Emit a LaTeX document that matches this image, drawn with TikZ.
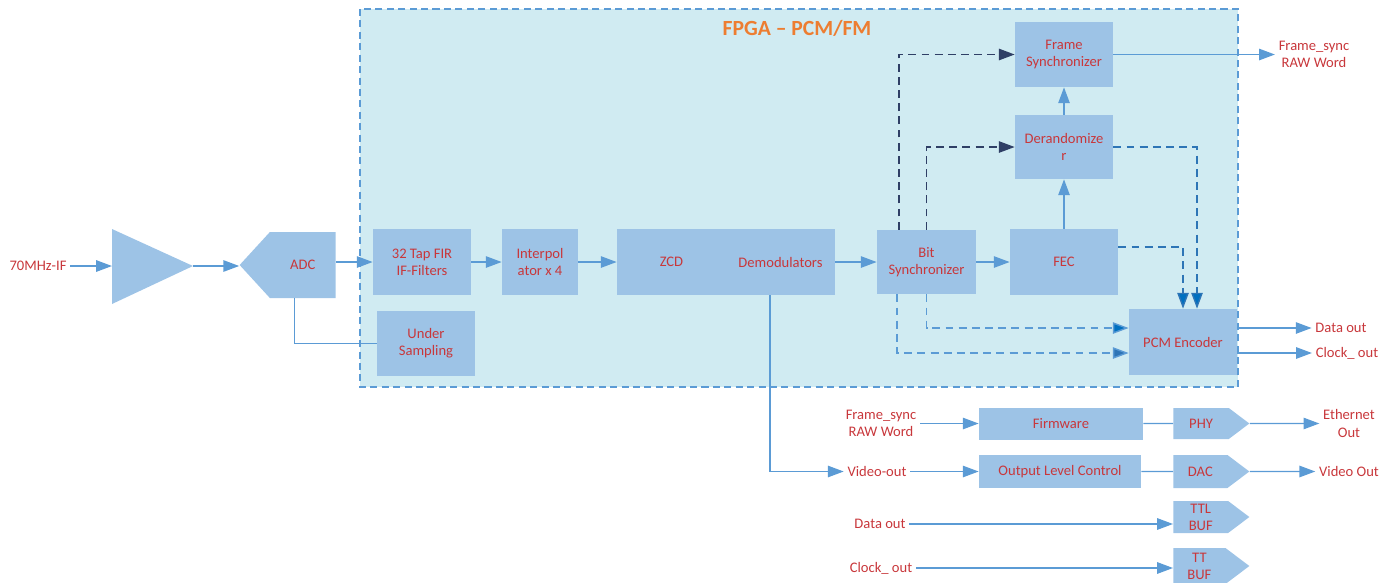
\documentclass[tikz,border=0pt]{standalone}
\usepackage{fontspec}
\setmainfont{Carlito}
\usetikzlibrary{arrows.meta,shapes.symbols}
\definecolor{blkfill}{HTML}{9DC3E6}
\definecolor{fpgafill}{HTML}{D0EBF2}
\definecolor{linblue}{HTML}{5B9BD5}
\definecolor{darkdash}{HTML}{2F3F66}
\definecolor{middash}{HTML}{2E75B6}
\definecolor{tipblue}{HTML}{0070C0}
\definecolor{txtred}{HTML}{C8373B}
\definecolor{ttlorange}{HTML}{ED7D31}
\tikzset{
  lbl/.style={text=txtred, font=\fontsize{8.3}{9.7}\selectfont, align=center, inner sep=2pt},
  blk/.style 2 args={lbl, fill=blkfill, inner sep=1pt,
    minimum width=#1*0.02cm, minimum height=#2*0.02cm},
  sig/.style 2 args={blk={#1}{#2}, signal},
  ln/.style={draw=linblue, line width=0.8pt},
  arr/.style={ln, -{Triangle[length=9pt,width=6.5pt]}},
  dsh/.style={line width=0.8pt, dash pattern=on 4.5pt off 3pt,
    -{Triangle[length=9pt,width=6.5pt]}},
}
\begin{document}
\begin{tikzpicture}[x=0.02cm,y=-0.02cm]
\useasboundingbox (0,0) rectangle (1396,582);
% FPGA area
\draw[linblue, line width=0.8pt, dash pattern=on 4pt off 2.5pt, fill=fpgafill] (360,9) rectangle (1238,387);
\node[text=ttlorange, font=\fontsize{12.3}{14}\selectfont\bfseries] (fpgattl) at (797,28) {FPGA \textendash{} PCM/FM};
% front end
\fill[blkfill] (112,229) -- (193,266) -- (112,304) -- cycle;
\coordinate (ampin) at (112,266);
\coordinate (ampout) at (193,266);
\node[lbl] (ifin) at (38,266) {70MHz-IF};
\node[sig={96}{66}, signal to=west, signal pointer angle=95, anchor=east] (adc) at (336,265) {ADC};
% processing chain
\node[blk={98}{66}] (fir) at (422,262) {32 Tap FIR\\IF-Filters};
\node[blk={76}{66}] (interp) at (540,262) {Interpol\\ator x 4};
\node[blk={109}{66}] (zcd) at (671.5,262) {ZCD};
\node[blk={109}{66}] (demod) at (780.5,262) {Demodulators};
\node[blk={98}{65}] (under) at (426,343.5) {Under\\Sampling};
\node[blk={99}{64}] (bitsync) at (926.5,262) {Bit\\Synchronizer};
\node[blk={108}{66}] (fec) at (1064,262) {FEC};
\node[blk={98}{64}] (derand) at (1064,147) {Derandomize\\r};
\node[blk={98}{65}] (frame) at (1064,54.5) {Frame\\Synchronizer};
\node[blk={108}{66}] (pcm) at (1183,342) {PCM Encoder};
\node[lbl] (fsout) at (1314,54.5) {Frame\_sync\\RAW Word};
\node[lbl] (dout) at (1341,328) {Data out};
\node[lbl] (cout) at (1347,353) {Clock\_ out};
% outputs below
\node[lbl] (fsin) at (881,423.5) {Frame\_sync\\RAW Word};
\node[lbl] (vin) at (877,471.5) {Video-out};
\node[lbl] (din) at (880,524) {Data out};
\node[lbl] (cin) at (881,568) {Clock\_ out};
\node[blk={164}{32}] (firmware) at (1061,423.5) {Firmware};
\node[blk={162}{33}] (olc) at (1060,471.5) {Output Level Control};
\node[sig={76}{31}, signal to=east, signal pointer angle=74, anchor=west] (phy) at (1173,423.5) {PHY};
\node[sig={76}{33}, signal to=east, signal pointer angle=74, anchor=west] (dac) at (1173,471.5) {DAC};
\node[sig={76}{32}, signal to=east, signal pointer angle=74, anchor=west] (ttl) at (1173,517) {TTL\\BUF};
\node[sig={76}{36}, signal to=east, signal pointer angle=74, anchor=west] (tt) at (1173,566) {TT\\BUF};
\node[lbl] (ethout) at (1349,423.5) {Ethernet\\Out};
\node[lbl] (vout) at (1349,471.5) {Video Out};
\coordinate (vtap) at (770,0);
% connectors
\draw[arr] (ifin.east) -- (ampin);
\draw[arr] (ampout) -- (ampout -| adc.west);
\draw[arr] (adc.east |- fir) -- (fir.west);
\draw[ln, line width=0.6pt] ([xshift=-0.16cm]adc.south) |- (under.west);
\draw[arr] (fir) -- (interp);
\draw[arr] (interp) -- (zcd);
\draw[arr] (demod) -- (bitsync);
\draw[arr] (bitsync) -- (fec);
\draw[arr] (fec) -- (derand);
\draw[arr] (derand) -- (frame);
\draw[arr] (frame) -- (fsout);
\draw[arr] (demod.south -| vtap) |- (vin.west);
\draw[darkdash, dsh] ([xshift=-0.55cm]bitsync.north) |- (frame.west);
\draw[darkdash, dsh] (bitsync.north) |- (derand.west);
\draw[middash, dsh, -{Triangle[length=9pt,width=6.5pt,fill=tipblue]}] (derand.east) -| ([xshift=0.28cm]pcm.north);
\draw[middash, dsh, -{Triangle[length=9pt,width=6.5pt,fill=tipblue]}] ([yshift=0.3cm]fec.east) -| (pcm.north);
\draw[linblue, dsh, -{Triangle[length=9pt,width=6.5pt,fill=tipblue]}] (bitsync.south) |- ([yshift=0.28cm]pcm.west);
\draw[linblue, dsh, -{Triangle[length=9pt,width=6.5pt,fill=middash]}] ([xshift=-0.59cm]bitsync.south) |- ([yshift=-0.22cm]pcm.west);
\draw[arr] (pcm.east |- dout) -- (dout.west);
\draw[arr] (pcm.east |- cout) -- (cout.west);
\draw[arr] (fsin) -- (firmware);
\draw[arr] (vin) -- (olc);
\draw[ln] (firmware) -- (phy);
\draw[ln] (olc) -- (dac);
\draw[arr] (phy) -- (ethout);
\draw[arr] (dac) -- (vout);
\draw[arr] (din.east) -- (din.east -| ttl.west);
\draw[arr] (cin.east) -- (cin.east -| tt.west);
\end{tikzpicture}
\end{document}
